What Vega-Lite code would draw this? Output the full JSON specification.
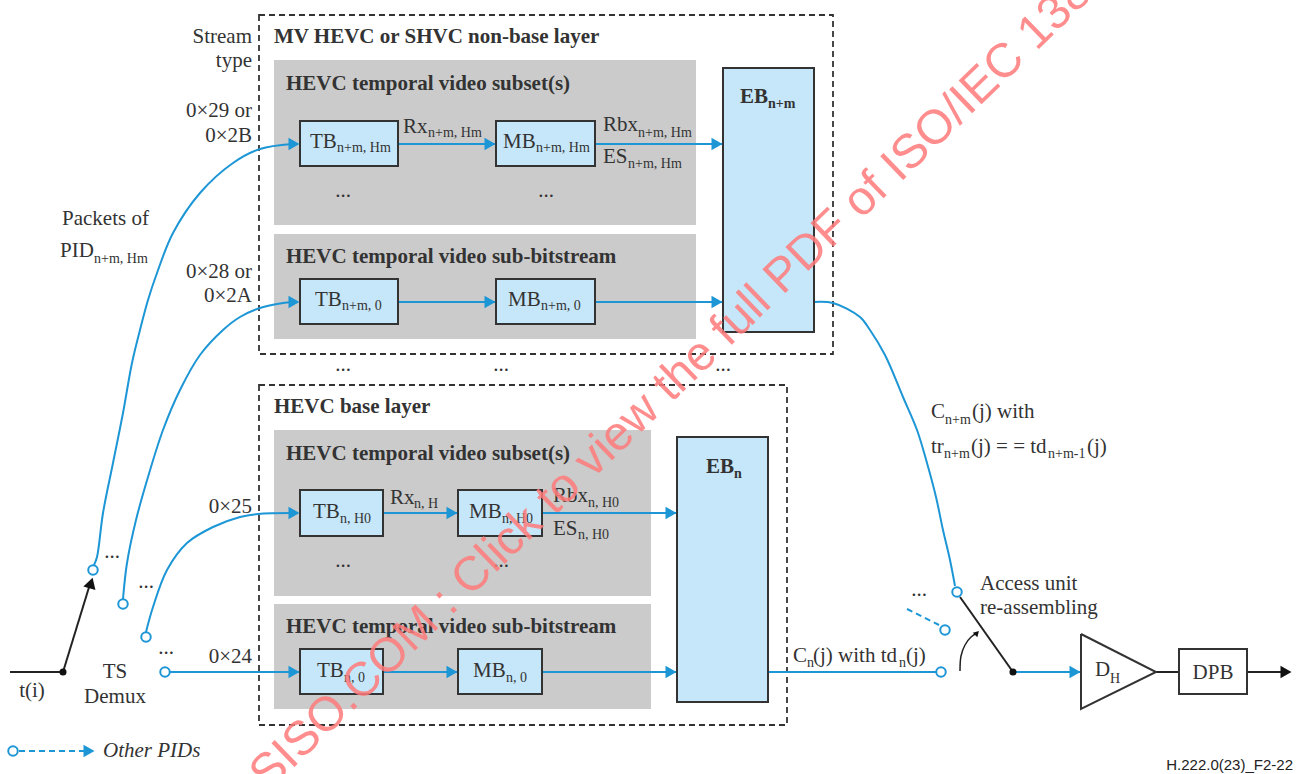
{
  "$schema": "https://vega.github.io/schema/vega-lite/v6.json",
  "width": 1307,
  "height": 774,
  "padding": 0,
  "autosize": {"type": "none"},
  "background": "white",
  "config": {"view": {"stroke": null}},
  "datasets": {
    "boxes": [
      {"k": "gray", "x": 274, "x2": 696, "y": 60, "y2": 225},
      {"k": "gray", "x": 274, "x2": 696, "y": 234, "y2": 339},
      {"k": "gray", "x": 274, "x2": 651, "y": 430, "y2": 596},
      {"k": "gray", "x": 274, "x2": 651, "y": 604, "y2": 709},
      {"k": "dash", "x": 259, "x2": 833, "y": 15, "y2": 354},
      {"k": "dash", "x": 259, "x2": 787, "y": 385, "y2": 725},
      {"k": "buf", "x": 300, "x2": 398, "y": 121, "y2": 166},
      {"k": "buf", "x": 496, "x2": 595, "y": 121, "y2": 166},
      {"k": "buf", "x": 300, "x2": 398, "y": 279, "y2": 324},
      {"k": "buf", "x": 496, "x2": 595, "y": 279, "y2": 324},
      {"k": "buf", "x": 723, "x2": 814, "y": 68, "y2": 332},
      {"k": "buf", "x": 300, "x2": 383, "y": 490, "y2": 536},
      {"k": "buf", "x": 458, "x2": 542, "y": 490, "y2": 536},
      {"k": "buf", "x": 300, "x2": 383, "y": 649, "y2": 694},
      {"k": "buf", "x": 458, "x2": 542, "y": 649, "y2": 694},
      {"k": "buf", "x": 677, "x2": 768, "y": 437, "y2": 702},
      {"k": "dpb", "x": 1179, "x2": 1247, "y": 649, "y2": 694}
    ],
    "segs": [
      {"k": "blue", "x": 398, "y": 144, "x2": 496, "y2": 144},
      {"k": "blue", "x": 595, "y": 144, "x2": 723, "y2": 144},
      {"k": "blue", "x": 398, "y": 302, "x2": 496, "y2": 302},
      {"k": "blue", "x": 595, "y": 302, "x2": 723, "y2": 302},
      {"k": "blue", "x": 383, "y": 513, "x2": 458, "y2": 513},
      {"k": "blue", "x": 542, "y": 513, "x2": 677, "y2": 513},
      {"k": "blue", "x": 170, "y": 672, "x2": 300, "y2": 672},
      {"k": "blue", "x": 383, "y": 672, "x2": 458, "y2": 672},
      {"k": "blue", "x": 542, "y": 672, "x2": 677, "y2": 672},
      {"k": "blue", "x": 768, "y": 672, "x2": 936, "y2": 672},
      {"k": "blue", "x": 1013, "y": 672, "x2": 1081, "y2": 672},
      {"k": "black", "x": 10, "y": 672, "x2": 63, "y2": 672},
      {"k": "black", "x": 63, "y": 672, "x2": 90, "y2": 584},
      {"k": "black", "x": 960, "y": 597, "x2": 1013, "y2": 672},
      {"k": "black", "x": 1156, "y": 672, "x2": 1179, "y2": 672},
      {"k": "black", "x": 1247, "y": 672, "x2": 1286, "y2": 672},
      {"k": "dashed", "x": 907, "y": 609, "x2": 939, "y2": 625},
      {"k": "dashed", "x": 19, "y": 751, "x2": 88, "y2": 751}
    ],
    "curves": [
      {"id": "A", "o": 1, "x": 94, "y": 565},
      {"id": "A", "o": 2, "x": 97, "y": 557},
      {"id": "A", "o": 3, "x": 103, "y": 513},
      {"id": "A", "o": 4, "x": 113, "y": 463},
      {"id": "A", "o": 5, "x": 123, "y": 413},
      {"id": "A", "o": 6, "x": 132, "y": 363},
      {"id": "A", "o": 7, "x": 140, "y": 330},
      {"id": "A", "o": 8, "x": 148, "y": 300},
      {"id": "A", "o": 9, "x": 157, "y": 273},
      {"id": "A", "o": 10, "x": 173, "y": 233},
      {"id": "A", "o": 11, "x": 200, "y": 193},
      {"id": "A", "o": 12, "x": 233, "y": 163},
      {"id": "A", "o": 13, "x": 260, "y": 149},
      {"id": "A", "o": 14, "x": 292, "y": 144},
      {"id": "B", "o": 1, "x": 123, "y": 599},
      {"id": "B", "o": 2, "x": 127, "y": 563},
      {"id": "B", "o": 3, "x": 136, "y": 520},
      {"id": "B", "o": 4, "x": 148, "y": 477},
      {"id": "B", "o": 5, "x": 163, "y": 430},
      {"id": "B", "o": 6, "x": 180, "y": 390},
      {"id": "B", "o": 7, "x": 200, "y": 355},
      {"id": "B", "o": 8, "x": 223, "y": 330},
      {"id": "B", "o": 9, "x": 240, "y": 317},
      {"id": "B", "o": 10, "x": 260, "y": 308},
      {"id": "B", "o": 11, "x": 283, "y": 303},
      {"id": "B", "o": 12, "x": 292, "y": 302},
      {"id": "C", "o": 1, "x": 146, "y": 632},
      {"id": "C", "o": 2, "x": 153, "y": 607},
      {"id": "C", "o": 3, "x": 167, "y": 570},
      {"id": "C", "o": 4, "x": 187, "y": 543},
      {"id": "C", "o": 5, "x": 213, "y": 527},
      {"id": "C", "o": 6, "x": 240, "y": 517},
      {"id": "C", "o": 7, "x": 258, "y": 514},
      {"id": "C", "o": 8, "x": 292, "y": 513},
      {"id": "R", "o": 1, "x": 814, "y": 302},
      {"id": "R", "o": 2, "x": 833, "y": 303},
      {"id": "R", "o": 3, "x": 860, "y": 317},
      {"id": "R", "o": 4, "x": 870, "y": 330},
      {"id": "R", "o": 5, "x": 885, "y": 355},
      {"id": "R", "o": 6, "x": 903, "y": 397},
      {"id": "R", "o": 7, "x": 917, "y": 430},
      {"id": "R", "o": 8, "x": 927, "y": 463},
      {"id": "R", "o": 9, "x": 936, "y": 497},
      {"id": "R", "o": 10, "x": 943, "y": 530},
      {"id": "R", "o": 11, "x": 950, "y": 560},
      {"id": "R", "o": 12, "x": 955, "y": 586},
      {"id": "S", "o": 1, "x": 960, "y": 671},
      {"id": "S", "o": 2, "x": 961, "y": 656},
      {"id": "S", "o": 3, "x": 965, "y": 645},
      {"id": "S", "o": 4, "x": 971, "y": 637},
      {"id": "S", "o": 5, "x": 977, "y": 633}
    ],
    "amp": [
      {"o": 1, "x": 1081, "y": 634},
      {"o": 2, "x": 1156, "y": 672},
      {"o": 3, "x": 1081, "y": 709},
      {"o": 4, "x": 1081, "y": 634}
    ],
    "nodes": [
      {"k": "port", "x": 93, "y": 570},
      {"k": "port", "x": 123, "y": 604},
      {"k": "port", "x": 146, "y": 637},
      {"k": "port", "x": 165, "y": 672},
      {"k": "port", "x": 957, "y": 592},
      {"k": "port", "x": 945, "y": 630},
      {"k": "port", "x": 941, "y": 672},
      {"k": "port", "x": 13, "y": 751},
      {"k": "joint", "x": 63, "y": 672},
      {"k": "joint", "x": 1013, "y": 672}
    ],
    "heads": [
      {"k": "blue", "x": 294, "y": 144, "a": 90},
      {"k": "blue", "x": 490, "y": 144, "a": 90},
      {"k": "blue", "x": 717, "y": 144, "a": 90},
      {"k": "blue", "x": 294, "y": 302, "a": 90},
      {"k": "blue", "x": 490, "y": 302, "a": 90},
      {"k": "blue", "x": 717, "y": 302, "a": 90},
      {"k": "blue", "x": 294, "y": 513, "a": 90},
      {"k": "blue", "x": 452, "y": 513, "a": 90},
      {"k": "blue", "x": 671, "y": 513, "a": 90},
      {"k": "blue", "x": 294, "y": 672, "a": 90},
      {"k": "blue", "x": 452, "y": 672, "a": 90},
      {"k": "blue", "x": 671, "y": 672, "a": 90},
      {"k": "blue", "x": 1075, "y": 672, "a": 90},
      {"k": "blue", "x": 89, "y": 751, "a": 90},
      {"k": "black", "x": 1286, "y": 672, "a": 90},
      {"k": "black", "x": 91, "y": 583, "a": 17},
      {"k": "small", "x": 977, "y": 633, "a": 45}
    ],
    "texts": [
      {"k": "r", "t": "Rx", "x": 403, "y": 133},
      {"k": "r", "t": "Rbx", "x": 603, "y": 131},
      {"k": "r", "t": "ES", "x": 603, "y": 163},
      {"k": "r", "t": "TB", "x": 310, "y": 148},
      {"k": "r", "t": "MB", "x": 503, "y": 148},
      {"k": "r", "t": "TB", "x": 315, "y": 306},
      {"k": "r", "t": "MB", "x": 508, "y": 306},
      {"k": "r", "t": "Packets of", "x": 62, "y": 225},
      {"k": "r", "t": "PID", "x": 60, "y": 257},
      {"k": "r", "t": "TB", "x": 313, "y": 518},
      {"k": "r", "t": "Rx", "x": 390, "y": 504},
      {"k": "r", "t": "MB", "x": 469, "y": 518},
      {"k": "r", "t": "Rbx", "x": 553, "y": 502},
      {"k": "r", "t": "ES", "x": 553, "y": 535},
      {"k": "r", "t": "TB", "x": 317, "y": 677},
      {"k": "r", "t": "MB", "x": 473, "y": 677},
      {"k": "r", "t": "C", "x": 793, "y": 662},
      {"k": "r", "t": "(j) with td", "x": 813, "y": 662},
      {"k": "r", "t": "(j)", "x": 906, "y": 662},
      {"k": "r", "t": "C", "x": 931, "y": 418},
      {"k": "r", "t": "(j) with", "x": 972, "y": 418},
      {"k": "r", "t": "tr", "x": 931, "y": 453},
      {"k": "r", "t": "(j) = = td", "x": 971, "y": 453},
      {"k": "r", "t": "(j)", "x": 1087, "y": 453},
      {"k": "r", "t": "Access unit", "x": 980, "y": 590},
      {"k": "r", "t": "re-assembling", "x": 980, "y": 614},
      {"k": "r", "t": "D", "x": 1095, "y": 676},
      {"k": "s", "t": "n+m, Hm", "x": 337, "y": 152},
      {"k": "s", "t": "n+m, Hm", "x": 428, "y": 137},
      {"k": "s", "t": "n+m, Hm", "x": 536, "y": 152},
      {"k": "s", "t": "n+m, Hm", "x": 638, "y": 137},
      {"k": "s", "t": "n+m, Hm", "x": 628, "y": 168},
      {"k": "s", "t": "n+m, 0", "x": 342, "y": 310},
      {"k": "s", "t": "n+m, 0", "x": 541, "y": 310},
      {"k": "s", "t": "n+m, Hm", "x": 94, "y": 263},
      {"k": "s", "t": "n, H0", "x": 340, "y": 523},
      {"k": "s", "t": "n, H", "x": 414, "y": 508},
      {"k": "s", "t": "n, H0", "x": 502, "y": 523},
      {"k": "s", "t": "n, H0", "x": 588, "y": 507},
      {"k": "s", "t": "n, H0", "x": 578, "y": 539},
      {"k": "s", "t": "n, 0", "x": 344, "y": 682},
      {"k": "s", "t": "n, 0", "x": 506, "y": 682},
      {"k": "s", "t": "n", "x": 807, "y": 667},
      {"k": "s", "t": "n", "x": 899, "y": 667},
      {"k": "s", "t": "n+m", "x": 945, "y": 424},
      {"k": "s", "t": "n+m", "x": 944, "y": 458},
      {"k": "s", "t": "n+m-1", "x": 1048, "y": 458},
      {"k": "s", "t": "H", "x": 1110, "y": 683},
      {"k": "rr", "t": "Stream", "x": 252, "y": 43},
      {"k": "rr", "t": "type", "x": 252, "y": 67},
      {"k": "rr", "t": "0×29 or", "x": 252, "y": 117},
      {"k": "rr", "t": "0×2B", "x": 252, "y": 142},
      {"k": "rr", "t": "0×28 or", "x": 252, "y": 278},
      {"k": "rr", "t": "0×2A", "x": 252, "y": 302},
      {"k": "rr", "t": "0×25", "x": 252, "y": 513},
      {"k": "rr", "t": "0×24", "x": 252, "y": 663},
      {"k": "rc", "t": "t(i)", "x": 32, "y": 697},
      {"k": "rc", "t": "TS", "x": 115, "y": 678},
      {"k": "rc", "t": "Demux", "x": 115, "y": 703},
      {"k": "rc", "t": "DPB", "x": 1213, "y": 679},
      {"k": "rc", "t": "...", "x": 343, "y": 197},
      {"k": "rc", "t": "...", "x": 546, "y": 197},
      {"k": "rc", "t": "...", "x": 343, "y": 371},
      {"k": "rc", "t": "...", "x": 501, "y": 371},
      {"k": "rc", "t": "...", "x": 723, "y": 371},
      {"k": "rc", "t": "...", "x": 343, "y": 567},
      {"k": "rc", "t": "...", "x": 501, "y": 567},
      {"k": "rc", "t": "...", "x": 112, "y": 558},
      {"k": "rc", "t": "...", "x": 146, "y": 588},
      {"k": "rc", "t": "...", "x": 166, "y": 654},
      {"k": "rc", "t": "...", "x": 919, "y": 596},
      {"k": "b", "t": "MV HEVC or SHVC non-base layer", "x": 274, "y": 43},
      {"k": "b", "t": "HEVC temporal video subset(s)", "x": 286, "y": 90},
      {"k": "b", "t": "HEVC temporal video sub-bitstream", "x": 286, "y": 263},
      {"k": "b", "t": "HEVC base layer", "x": 274, "y": 413},
      {"k": "b", "t": "HEVC temporal video subset(s)", "x": 286, "y": 460},
      {"k": "b", "t": "HEVC temporal video sub-bitstream", "x": 286, "y": 633},
      {"k": "b", "t": "EB", "x": 740, "y": 103},
      {"k": "b", "t": "EB", "x": 706, "y": 473},
      {"k": "bs", "t": "n+m", "x": 768, "y": 108},
      {"k": "bs", "t": "n", "x": 734, "y": 478},
      {"k": "i", "t": "Other PIDs", "x": 103, "y": 757},
      {"k": "code", "t": "H.222.0(23)_F2-22", "x": 1293, "y": 770},
      {"k": "wmL", "t": "ISO/IEC 13818-1:2023", "x": 900, "y": 183},
      {"k": "wmR", "t": "STANDARDSISO.COM : Click to view the full PDF of", "x": 890, "y": 192}
    ]
  },
  "encoding": {
    "x": {"field": "x", "type": "quantitative", "scale": {"domain": [0, 1307], "range": [0, 1307], "nice": false, "zero": false}, "axis": null},
    "y": {"field": "y", "type": "quantitative", "scale": {"domain": [0, 774], "range": [0, 774], "nice": false, "zero": false}, "axis": null}
  },
  "layer": [
    {
      "data": {"name": "boxes"},
      "transform": [{"filter": "datum.k === 'gray'"}],
      "mark": {"type": "rect", "fill": "#cbcbcb", "strokeWidth": 0},
      "encoding": {"x2": {"field": "x2"}, "y2": {"field": "y2"}}
    },
    {
      "data": {"name": "boxes"},
      "transform": [{"filter": "datum.k === 'dash'"}],
      "mark": {"type": "rect", "fillOpacity": 0, "stroke": "#333333", "strokeWidth": 1.8, "strokeDash": [6, 4]},
      "encoding": {"x2": {"field": "x2"}, "y2": {"field": "y2"}}
    },
    {
      "data": {"name": "segs"},
      "transform": [{"filter": "datum.k === 'blue'"}],
      "mark": {"type": "rule", "stroke": "#1d96d6", "strokeWidth": 2},
      "encoding": {"x2": {"field": "x2"}, "y2": {"field": "y2"}}
    },
    {
      "data": {"name": "segs"},
      "transform": [{"filter": "datum.k === 'black'"}],
      "mark": {"type": "rule", "stroke": "#222222", "strokeWidth": 2},
      "encoding": {"x2": {"field": "x2"}, "y2": {"field": "y2"}}
    },
    {
      "data": {"name": "segs"},
      "transform": [{"filter": "datum.k === 'dashed'"}],
      "mark": {"type": "rule", "stroke": "#1d96d6", "strokeWidth": 2, "strokeDash": [6, 4]},
      "encoding": {"x2": {"field": "x2"}, "y2": {"field": "y2"}}
    },
    {
      "data": {"name": "curves"},
      "transform": [{"filter": "datum.id !== 'S'"}],
      "mark": {"type": "line", "interpolate": "catmull-rom", "stroke": "#1d96d6", "strokeWidth": 2},
      "encoding": {"detail": {"field": "id"}, "order": {"field": "o", "type": "quantitative"}}
    },
    {
      "data": {"name": "curves"},
      "transform": [{"filter": "datum.id === 'S'"}],
      "mark": {"type": "line", "interpolate": "catmull-rom", "stroke": "#222222", "strokeWidth": 1.5},
      "encoding": {"order": {"field": "o", "type": "quantitative"}}
    },
    {
      "data": {"name": "boxes"},
      "transform": [{"filter": "datum.k === 'buf'"}],
      "mark": {"type": "rect", "fill": "#c6e7f9", "stroke": "#333333", "strokeWidth": 2},
      "encoding": {"x2": {"field": "x2"}, "y2": {"field": "y2"}}
    },
    {
      "data": {"name": "boxes"},
      "transform": [{"filter": "datum.k === 'dpb'"}],
      "mark": {"type": "rect", "fill": "white", "stroke": "#333333", "strokeWidth": 2},
      "encoding": {"x2": {"field": "x2"}, "y2": {"field": "y2"}}
    },
    {
      "data": {"name": "amp"},
      "mark": {"type": "line", "stroke": "#333333", "strokeWidth": 2, "strokeJoin": "miter"},
      "encoding": {"order": {"field": "o", "type": "quantitative"}}
    },
    {
      "data": {"name": "nodes"},
      "transform": [{"filter": "datum.k === 'port'"}],
      "mark": {"type": "point", "shape": "circle", "filled": true, "fill": "white", "stroke": "#1d96d6", "strokeWidth": 2, "size": 90, "opacity": 1}
    },
    {
      "data": {"name": "nodes"},
      "transform": [{"filter": "datum.k === 'joint'"}],
      "mark": {"type": "point", "shape": "circle", "filled": true, "fill": "#111111", "size": 50, "opacity": 1}
    },
    {
      "data": {"name": "heads"},
      "transform": [{"filter": "datum.k === 'blue'"}],
      "mark": {"type": "point", "shape": "triangle-up", "filled": true, "fill": "#1d96d6", "size": 160, "opacity": 1},
      "encoding": {"angle": {"field": "a", "type": "quantitative", "scale": null}}
    },
    {
      "data": {"name": "heads"},
      "transform": [{"filter": "datum.k === 'black'"}],
      "mark": {"type": "point", "shape": "triangle-up", "filled": true, "fill": "#111111", "size": 160, "opacity": 1},
      "encoding": {"angle": {"field": "a", "type": "quantitative", "scale": null}}
    },
    {
      "data": {"name": "heads"},
      "transform": [{"filter": "datum.k === 'small'"}],
      "mark": {"type": "point", "shape": "triangle-up", "filled": true, "fill": "#111111", "size": 40, "opacity": 1},
      "encoding": {"angle": {"field": "a", "type": "quantitative", "scale": null}}
    },
    {
      "data": {"name": "texts"},
      "transform": [{"filter": "datum.k === 'r'"}],
      "mark": {"type": "text", "align": "left", "baseline": "alphabetic", "font": "Liberation Serif", "fontSize": 21, "fill": "#333333"},
      "encoding": {"text": {"field": "t"}}
    },
    {
      "data": {"name": "texts"},
      "transform": [{"filter": "datum.k === 's'"}],
      "mark": {"type": "text", "align": "left", "baseline": "alphabetic", "font": "Liberation Serif", "fontSize": 14, "fill": "#333333"},
      "encoding": {"text": {"field": "t"}}
    },
    {
      "data": {"name": "texts"},
      "transform": [{"filter": "datum.k === 'rr'"}],
      "mark": {"type": "text", "align": "right", "baseline": "alphabetic", "font": "Liberation Serif", "fontSize": 21, "fill": "#333333"},
      "encoding": {"text": {"field": "t"}}
    },
    {
      "data": {"name": "texts"},
      "transform": [{"filter": "datum.k === 'rc'"}],
      "mark": {"type": "text", "align": "center", "baseline": "alphabetic", "font": "Liberation Serif", "fontSize": 21, "fill": "#333333"},
      "encoding": {"text": {"field": "t"}}
    },
    {
      "data": {"name": "texts"},
      "transform": [{"filter": "datum.k === 'b'"}],
      "mark": {"type": "text", "align": "left", "baseline": "alphabetic", "font": "Liberation Serif", "fontWeight": "bold", "fontSize": 21, "fill": "#333333"},
      "encoding": {"text": {"field": "t"}}
    },
    {
      "data": {"name": "texts"},
      "transform": [{"filter": "datum.k === 'bs'"}],
      "mark": {"type": "text", "align": "left", "baseline": "alphabetic", "font": "Liberation Serif", "fontWeight": "bold", "fontSize": 14, "fill": "#333333"},
      "encoding": {"text": {"field": "t"}}
    },
    {
      "data": {"name": "texts"},
      "transform": [{"filter": "datum.k === 'i'"}],
      "mark": {"type": "text", "align": "left", "baseline": "alphabetic", "font": "Liberation Serif", "fontStyle": "italic", "fontSize": 21, "fill": "#333333"},
      "encoding": {"text": {"field": "t"}}
    },
    {
      "data": {"name": "texts"},
      "transform": [{"filter": "datum.k === 'code'"}],
      "mark": {"type": "text", "align": "right", "baseline": "alphabetic", "font": "Liberation Sans", "fontSize": 15, "fill": "#222222"},
      "encoding": {"text": {"field": "t"}}
    },
    {
      "data": {"name": "texts"},
      "transform": [{"filter": "datum.k === 'wmL'"}],
      "mark": {"type": "text", "align": "left", "baseline": "alphabetic", "font": "Liberation Sans", "fontSize": 48, "angle": -44, "fill": "#ff7a7a", "opacity": 0.85},
      "encoding": {"text": {"field": "t"}}
    },
    {
      "data": {"name": "texts"},
      "transform": [{"filter": "datum.k === 'wmR'"}],
      "mark": {"type": "text", "align": "right", "baseline": "alphabetic", "font": "Liberation Sans", "fontSize": 48, "angle": -44, "fill": "#ff7a7a", "opacity": 0.85},
      "encoding": {"text": {"field": "t"}}
    }
  ]
}
